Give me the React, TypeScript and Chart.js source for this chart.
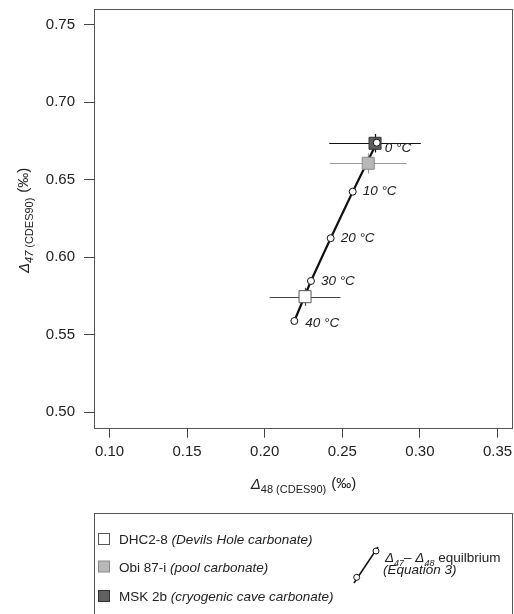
import React, { useEffect, useRef } from 'react';
import { Chart, registerables } from 'chart.js';

Chart.register(...registerables);

// ---- data ----
const X_TICKS = [0.1, 0.15, 0.2, 0.25, 0.3, 0.35];
const Y_TICKS = [0.5, 0.55, 0.6, 0.65, 0.7, 0.75];

const EQ_LABELS = ['0 °C', '10 °C', '20 °C', '30 °C', '40 °C'];
const EQ_D48 = [0.2722, 0.2567, 0.2425, 0.2298, 0.2191];
const EQ_D47 = [0.6738, 0.6422, 0.6122, 0.5846, 0.5588];

const SAMPLE_NAMES = ['DHC2-8', 'Obi 87-i', 'MSK 2b'];
const SAMPLE_DESC = ['(Devils Hole carbonate)', '(pool carbonate)', '(cryogenic cave carbonate)'];
const SAMPLE_D48 = [0.226, 0.2667, 0.2711];
const SAMPLE_D47 = [0.5745, 0.6605, 0.6734];
const SAMPLE_D48_ERR = [0.0228, 0.0247, 0.0295];
const SAMPLE_D47_ERR = [0.0058, 0.0065, 0.006];

// ---- styles ----
const FONT = '"Liberation Sans", Arial, Helvetica, sans-serif';
const SAMPLE_FILL = ['#ffffff', '#b8b8b8', '#606060'];
const SAMPLE_BORDER = ['#555555', '#8a8a8a', '#333333'];
const SAMPLE_ERR = ['#444444', '#9a9a9a', '#111111'];
const LABEL_DX = [8, 10, 10, 10, 11];
const LABEL_DY = [6, 0, 0, 0, 2];

const decorPlugin = {
  id: 'decor',
  beforeDatasetsDraw(chart: any) {
    const { ctx, scales } = chart;
    const x = scales.x, y = scales.y;
    ctx.save();
    ctx.lineWidth = 1.2;
    SAMPLE_D48.forEach((v: number, i: number) => {
      const px = Math.round(x.getPixelForValue(v)) + 0.5;
      const py = Math.round(y.getPixelForValue(SAMPLE_D47[i])) + 0.5;
      ctx.strokeStyle = SAMPLE_ERR[i];
      ctx.beginPath();
      ctx.moveTo(x.getPixelForValue(v - SAMPLE_D48_ERR[i]), py);
      ctx.lineTo(x.getPixelForValue(v + SAMPLE_D48_ERR[i]), py);
      ctx.moveTo(px, y.getPixelForValue(SAMPLE_D47[i] - SAMPLE_D47_ERR[i]));
      ctx.lineTo(px, y.getPixelForValue(SAMPLE_D47[i] + SAMPLE_D47_ERR[i]));
      ctx.stroke();
    });
    ctx.restore();
  },
  afterDatasetsDraw(chart: any) {
    const { ctx, scales } = chart;
    const x = scales.x, y = scales.y;
    ctx.save();
    ctx.fillStyle = '#222';
    ctx.font = `italic 13.5px ${FONT}`;
    ctx.textBaseline = 'middle';
    ctx.textAlign = 'left';
    EQ_LABELS.forEach((t: string, i: number) => {
      ctx.fillText(t, x.getPixelForValue(EQ_D48[i]) + LABEL_DX[i], y.getPixelForValue(EQ_D47[i]) + LABEL_DY[i]);
    });
    ctx.restore();
  },
  afterDraw(chart: any) {
    const { ctx, chartArea } = chart;
    const { left, right, top, bottom } = chartArea;
    ctx.save();
    // frame
    ctx.strokeStyle = '#555';
    ctx.lineWidth = 1;
    ctx.strokeRect(Math.round(left) + 0.5, Math.round(top) + 0.5, Math.round(right - left) - 1, Math.round(bottom - top));

    ctx.fillStyle = '#222';
    ctx.textBaseline = 'alphabetic';
    ctx.textAlign = 'left';

    const drawParts = (parts: { t: string; f: string; dy: number; gap?: number }[], startX: number, baseY: number) => {
      let cx = startX;
      parts.forEach((p) => {
        ctx.font = p.f;
        ctx.fillText(p.t, cx, baseY + p.dy);
        cx += ctx.measureText(p.t).width + (p.gap || 0);
      });
      return cx;
    };
    const measureParts = (parts: { t: string; f: string; gap?: number }[]) => {
      let w = 0;
      parts.forEach((p) => {
        ctx.font = p.f;
        w += ctx.measureText(p.t).width + (p.gap || 0);
      });
      return w;
    };
    // x-axis title
    const xTitle = [
      { t: 'Δ', f: `italic 15px ${FONT}`, dy: 0, gap: 0 },
      { t: '48 (CDES90)', f: `11px ${FONT}`, dy: 4, gap: 5 },
      { t: '(‰)', f: `15px ${FONT}`, dy: -1 },
    ];
    const cxMid = (left + right) / 2;
    const wX = measureParts(xTitle);
    drawParts(xTitle, cxMid - wX / 2, 489);

    // y-axis title
    const yTitle = [
      { t: 'Δ', f: `italic 15px ${FONT}`, dy: 0, gap: 0 },
      { t: '47', f: `italic 11px ${FONT}`, dy: 4, gap: 3 },
      { t: '(CDES90)', f: `11px ${FONT}`, dy: 4, gap: 5 },
      { t: '(‰)', f: `15px ${FONT}`, dy: -1 },
    ];
    const wY = measureParts(yTitle);
    ctx.save();
    ctx.translate(29, (top + bottom) / 2 + 2);
    ctx.rotate(-Math.PI / 2);
    drawParts(yTitle, -wY / 2, 0);
    ctx.restore();

    // legend box
    ctx.strokeStyle = '#555';
    ctx.lineWidth = 1;
    ctx.strokeRect(94.5, 513.5, 418, 110);
    const rowY = [539, 566.5, 596];
    SAMPLE_NAMES.forEach((name: string, i: number) => {
      ctx.fillStyle = SAMPLE_FILL[i];
      ctx.fillRect(98.5, rowY[i] - 5.5, 11, 11);
      ctx.strokeStyle = SAMPLE_BORDER[i];
      ctx.strokeRect(98.5, rowY[i] - 5.5, 11, 11);
      ctx.fillStyle = '#222';
      ctx.font = `13.5px ${FONT}`;
      ctx.fillText(name + ' ', 119, rowY[i] + 5);
      const w = ctx.measureText(name + ' ').width;
      ctx.font = `italic 13.5px ${FONT}`;
      ctx.fillText(SAMPLE_DESC[i], 119 + w, rowY[i] + 5);
    });

    // equilibrium symbol
    ctx.strokeStyle = '#111';
    ctx.lineWidth = 1.5;
    ctx.beginPath();
    ctx.moveTo(354, 583);
    ctx.lineTo(378, 547);
    ctx.stroke();
    ctx.lineWidth = 1;
    [[356.7, 577.3], [376, 551]].forEach(([cx, cy]) => {
      ctx.beginPath();
      ctx.arc(cx, cy, 3, 0, Math.PI * 2);
      ctx.fillStyle = '#fff';
      ctx.fill();
      ctx.stroke();
    });
    ctx.fillStyle = '#222';
    drawParts(
      [
        { t: 'Δ', f: `italic 13.5px ${FONT}`, dy: 0, gap: 0 },
        { t: '47', f: `italic 9px ${FONT}`, dy: 4, gap: 0 },
        { t: '– ', f: `13.5px ${FONT}`, dy: 0, gap: 0 },
        { t: 'Δ', f: `italic 13.5px ${FONT}`, dy: 0, gap: 0 },
        { t: '48', f: `italic 9px ${FONT}`, dy: 4, gap: 0 },
        { t: ' equilbrium', f: `13.5px ${FONT}`, dy: 0 },
      ],
      385,
      561.5
    );
    ctx.font = `italic 13.5px ${FONT}`;
    ctx.fillText('(Equation 3)', 383, 574);
    ctx.restore();
  },
};

export default function App() {
  const ref = useRef<HTMLCanvasElement | null>(null);
  useEffect(() => {
    if (!ref.current) return;
    Chart.defaults.font.family = FONT;
    const eqPoints = EQ_D48.map((v, i) => ({ x: v, y: EQ_D47[i] }));
    const sampleSets = SAMPLE_NAMES.map((name, i) => ({
      type: 'scatter' as const,
      label: name,
      data: [{ x: SAMPLE_D48[i], y: SAMPLE_D47[i] }],
      pointStyle: 'rect',
      pointRadius: 8.5,
      pointBackgroundColor: SAMPLE_FILL[i],
      pointBorderColor: SAMPLE_BORDER[i],
      pointBorderWidth: 1,
      showLine: false,
      order: 1,
    }));
    const chart = new Chart(ref.current, {
      type: 'scatter',
      data: {
        datasets: [
          {
            label: 'equilibrium line',
            data: eqPoints,
            showLine: true,
            borderColor: '#111',
            borderWidth: 2.2,
            pointRadius: 0,
            order: 2,
          } as any,
          ...sampleSets,
          {
            label: 'equilibrium points',
            data: eqPoints,
            showLine: false,
            pointStyle: 'circle',
            pointRadius: 3.5,
            pointBackgroundColor: '#ffffff',
            pointBorderColor: '#111',
            pointBorderWidth: 1,
            order: 0,
          } as any,
        ],
      },
      options: {
        responsive: false,
        animation: false,
        devicePixelRatio: 1,
        layout: { autoPadding: false, padding: { left: 0, top: 9, right: 1, bottom: 146.3 } },
        plugins: { legend: { display: false }, tooltip: { enabled: false } },
        scales: {
          x: {
            type: 'linear',
            min: 0.09,
            max: 0.36,
            afterBuildTicks: (s: any) => {
              s.ticks = X_TICKS.map((v) => ({ value: v }));
            },
            afterFit: (s: any) => {
              s.height = 40;
              s.paddingLeft = 0;
              s.paddingRight = 0;
            },
            ticks: {
              autoSkip: false,
              maxRotation: 0,
              padding: 5,
              color: '#222',
              font: { size: 15, family: FONT },
              callback: (v: any) => Number(v).toFixed(2),
            },
            grid: { drawOnChartArea: false, drawTicks: true, tickLength: 10, tickColor: '#444', tickWidth: 1 },
            border: { display: false },
          },
          y: {
            type: 'linear',
            min: 0.49,
            max: 0.76,
            afterBuildTicks: (s: any) => {
              s.ticks = Y_TICKS.map((v) => ({ value: v }));
            },
            afterFit: (s: any) => {
              s.width = 94;
              s.paddingTop = 0;
              s.paddingBottom = 0;
            },
            ticks: {
              autoSkip: false,
              padding: 9,
              color: '#222',
              font: { size: 15, family: FONT },
              callback: (v: any) => Number(v).toFixed(2),
            },
            grid: { drawOnChartArea: false, drawTicks: true, tickLength: 10, tickColor: '#444', tickWidth: 1 },
            border: { display: false },
          },
        },
      },
      plugins: [decorPlugin],
    } as any);
    return () => chart.destroy();
  }, []);
  return (
    <div style={{ position: 'absolute', left: 0, top: 0, width: 514, height: 614, background: '#fff' }}>
      <canvas ref={ref} width={514} height={614} style={{ display: 'block', width: 514, height: 614 }} />
    </div>
  );
}
